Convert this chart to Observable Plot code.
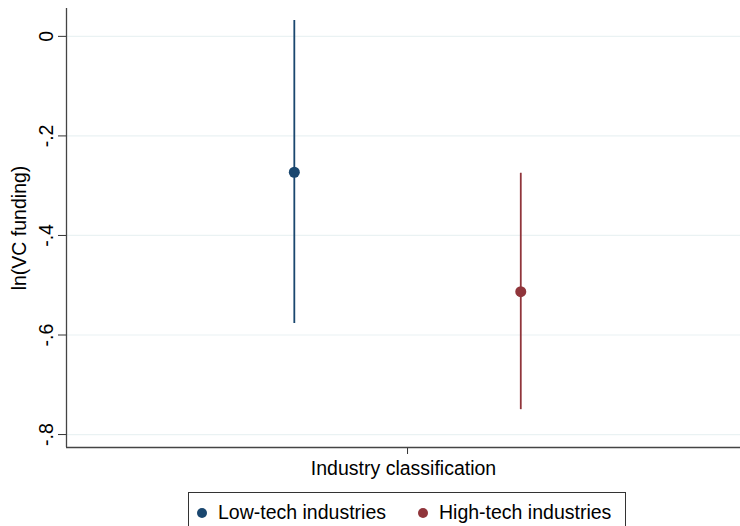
<!DOCTYPE html>
<html>
<head>
<meta charset="utf-8">
<script src="https://cdn.jsdelivr.net/npm/d3@7"></script>
<script src="https://cdn.jsdelivr.net/npm/@observablehq/plot@0.6"></script>
<style>
  html, body { margin: 0; padding: 0; background: #fff; }
  #wrap { position: relative; width: 740px; height: 526px; overflow: hidden; font-family: "Liberation Sans", Arial, sans-serif; }
  #legend { position: absolute; left: 188px; top: 492px; width: 438px; height: 44px; border: 1px solid #333; box-sizing: border-box; font-size: 19.5px; color: #000; }
  .item { position: absolute; top: 8px; display: flex; align-items: center; white-space: nowrap; }
  .sw { width: 10px; height: 10px; border-radius: 50%; display: inline-block; margin-right: 11px; }
</style>
</head>
<body>
<div id="wrap"><div id="chart"></div><div id="legend"></div></div>
<script>
const groups = ["Low-tech industries", "High-tech industries"];
const xPos = [0.832, 1.168];
const estimates = [-0.273, -0.513];
const lower = [-0.577, -0.750];
const upper = [0.032, -0.275];
const colors = ["#1a476f", "#90353b"];
const yTicks = [0, -0.2, -0.4, -0.6, -0.8];
const xTicks = [1];

const data = groups.map((g, i) => ({group: g, x: xPos[i], est: estimates[i], lo: lower[i], hi: upper[i]}));
const yDomain = [-0.826, 0.056];
const xDomain = [0.494, 1.494];
const fmt = d => d === 0 ? "0" : d.toFixed(1).replace("0.", ".");

const chart = Plot.plot({
  width: 740,
  height: 488,
  marginLeft: 66,
  marginRight: 0,
  marginTop: 8,
  marginBottom: 41,
  style: {fontSize: "19.5px", fontFamily: "Liberation Sans, Arial, sans-serif", color: "#000", background: "#fff"},
  x: {domain: xDomain},
  y: {domain: yDomain},
  color: {domain: groups, range: colors},
  marks: [
    Plot.gridY(yTicks, {stroke: "#eaf2f3", strokeOpacity: 1, strokeWidth: 1.2}),
    Plot.axisY(yTicks, {tickFormat: fmt, tickSize: 8, tickPadding: 6, tickRotate: -90, stroke: "#333",
      label: "ln(VC funding)", labelAnchor: "center", labelArrow: "none", labelOffset: 54}),
    Plot.axisX(xTicks, {tickFormat: () => "", tickSize: 7, stroke: "#333",
      label: "Industry classification", labelAnchor: "center", labelArrow: "none", labelOffset: 27}),
    Plot.ruleY([yDomain[0]], {stroke: "#444", strokeWidth: 1.3}),
    Plot.ruleX([xDomain[0]], {stroke: "#444", strokeWidth: 1.3}),
    Plot.ruleX(data, {x: "x", y1: "lo", y2: "hi", stroke: "group", strokeWidth: 1.8}),
    Plot.dot(data, {x: "x", y: "est", fill: "group", r: 5.5})
  ]
});
document.getElementById("chart").appendChild(chart);

const legend = document.getElementById("legend");
const lefts = [8, 229];
groups.forEach((g, i) => {
  const it = document.createElement("div");
  it.className = "item";
  it.style.left = lefts[i] + "px";
  const sw = document.createElement("span");
  sw.className = "sw";
  sw.style.background = colors[i];
  const t = document.createElement("span");
  t.textContent = g;
  it.appendChild(sw); it.appendChild(t);
  legend.appendChild(it);
});
</script>
</body>
</html>
